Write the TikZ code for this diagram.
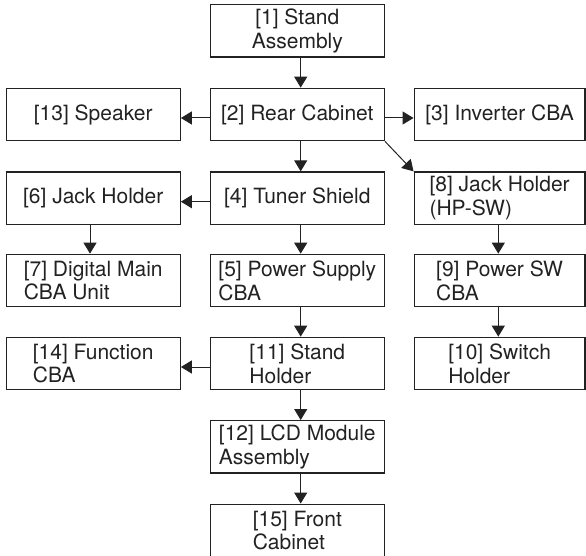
\documentclass[tikz,border=0pt]{standalone}
\usepackage{fontspec}
\setmainfont{TeX Gyre Heros}
\usetikzlibrary{arrows.meta}
\definecolor{ink}{HTML}{222222}
\begin{document}
\begin{tikzpicture}[x=1pt,y=-1pt,
  box/.style={draw=ink, line width=1.3pt, minimum height=52.4pt, inner sep=0pt, text=ink,
    font=\fontsize{21}{23.7}\selectfont, align=left},
  boxw/.style={box, minimum width=174pt},
  boxr/.style={box, minimum width=170.8pt},
  arr/.style={draw=ink, line width=1pt, -{Triangle[length=11pt,width=13pt]}}]
\useasboundingbox (0,0) rectangle (586,556);
% center column
\node[boxw, align=center] (b1) at (297.3,30.9) {[1] Stand\\Assembly};
\node[boxw] (b2) at (297.3,114.5) {[2] Rear Cabinet};
\node[boxw] (b4) at (297.3,198.2) {[4] Tuner Shield};
\node[boxw] (b5) at (297.3,280.5) {[5] Power Supply\\CBA};
\node[boxw] (b11) at (297.3,363.5) {[11] Stand\\Holder};
\node[boxw] (b12) at (297.3,446.9) {[12] LCD Module\\Assembly};
\node[boxw] (b15) at (297.3,530.4) {[15] Front\\Cabinet};
% left column
\node[boxw] (b13) at (93.2,114.5) {[13] Speaker};
\node[boxw] (b6) at (93.2,198.2) {[6] Jack Holder};
\node[boxw] (b7) at (93.2,280.5) {[7] Digital Main\\CBA Unit};
\node[boxw] (b14) at (93.2,363.5) {[14] Function\\CBA};
% right column
\node[boxr] (b3) at (499.6,114.5) {[3] Inverter CBA};
\node[boxr] (b8) at (499.6,198.2) {[8] Jack Holder\\(HP-SW)};
\node[boxr] (b9) at (499.6,280.5) {[9] Power SW\\CBA};
\node[boxr] (b10) at (499.6,363.5) {[10] Switch\\Holder};
% vertical arrows
\draw[arr] ([xshift=3.4pt]b1.south) -- ([xshift=3.4pt]b2.north);
\draw[arr] ([xshift=3.4pt]b2.south) -- ([xshift=3.4pt]b4.north);
\draw[arr] ([xshift=3.4pt]b4.south) -- ([xshift=3.4pt]b5.north);
\draw[arr] ([xshift=3.4pt]b5.south) -- ([xshift=3.4pt]b11.north);
\draw[arr] ([xshift=3.4pt]b11.south) -- ([xshift=3.4pt]b12.north);
\draw[arr] ([xshift=3.4pt]b12.south) -- ([xshift=3.4pt]b15.north);
\draw[arr] ([xshift=-3.2pt]b6.south) -- ([xshift=-3.2pt]b7.north);
\draw[arr] ([xshift=-1.3pt]b8.south) -- ([xshift=-1.3pt]b9.north);
\draw[arr] ([xshift=-1.3pt]b9.south) -- ([xshift=-1.3pt]b10.north);
% horizontal arrows
\draw[arr] ([yshift=-3.5pt]b2.west) -- ([yshift=-3.5pt]b13.east);
\draw[arr] ([yshift=-3.5pt]b2.east) -- ([yshift=-3.5pt]b3.west);
\draw[arr] ([yshift=-3.5pt]b4.west) -- ([yshift=-3.5pt]b6.east);
\draw[arr] ([yshift=-3.5pt]b11.west) -- ([yshift=-3.5pt]b14.east);
% diagonal arrow
\draw[arr] (b2.south east) -- (b8.north west);
\end{tikzpicture}
\end{document}
